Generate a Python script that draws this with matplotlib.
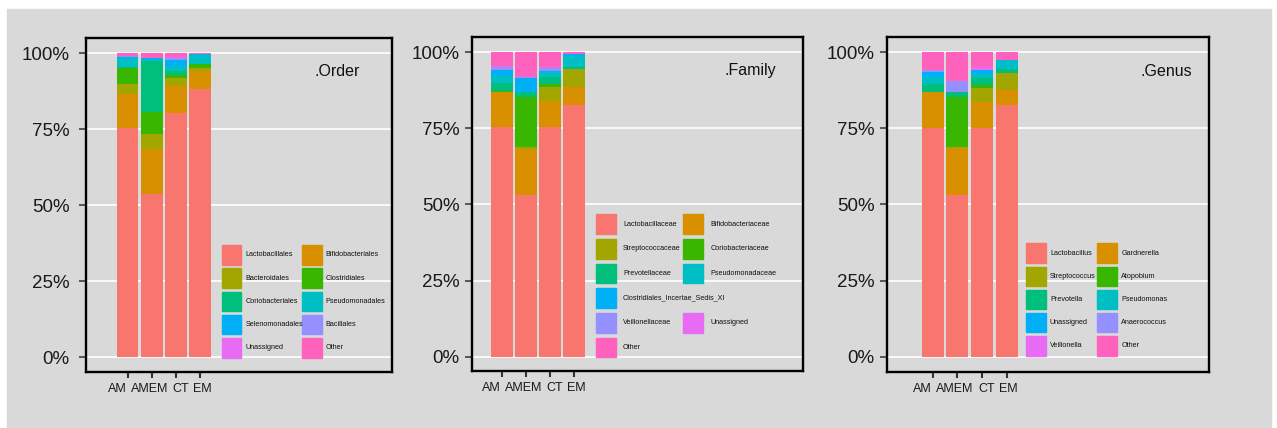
import numpy as np
import matplotlib
matplotlib.use("Agg")
import matplotlib.pyplot as plt
from matplotlib.patches import Rectangle
from matplotlib.ticker import PercentFormatter
from matplotlib.transforms import ScaledTranslation

plt.rcParams['font.family'] = ['Liberation Sans', 'DejaVu Sans']

W, H = 1277, 428
GREY = '#d9d9d9'

samples = ['AM', 'AMEM', 'CT', 'EM']

# ggplot default hue palette for 10 levels
hue10 = ['#F8766D', '#D89000', '#A3A500', '#39B600', '#00BF7D',
         '#00BFC4', '#00B0F6', '#9590FF', '#E76BF3', '#FF62BC']

# relative abundance (%), one row per sample, taxa stacked bottom -> top
order_taxa = ['Lactobacillales', 'Bifidobacteriales', 'Bacteroidales', 'Clostridiales',
              'Coriobacteriales', 'Pseudomonadales', 'Selenomonadales', 'Bacillales',
              'Unassigned', 'Other']
order_abund = [
    [75.5, 11.1, 3.2, 5.5, 0.3, 2.8, 0.5, 0.1, 0.0, 1.0],
    [53.6, 15.0, 4.7, 7.3, 17.0, 0.2, 0.6, 0.0, 0.0, 1.6],
    [80.4, 8.9, 2.7, 1.0, 1.3, 1.6, 1.8, 0.8, 0.2, 1.3],
    [88.4, 5.8, 1.1, 1.1, 0.0, 3.2, 0.2, 0.0, 0.0, 0.2],
]

family_taxa = ['Lactobacillaceae', 'Bifidobacteriaceae', 'Streptococcaceae', 'Coriobacteriaceae',
               'Prevotellaceae', 'Pseudomonadaceae', 'Clostridiales_Incertae_Sedis_XI',
               'Veillonellaceae', 'Unassigned', 'Other']
family_abund = [
    [75.4, 11.4, 0.3, 0.2, 2.6, 2.3, 2.1, 0.9, 0.3, 4.5],
    [53.2, 15.1, 0.7, 16.4, 1.4, 0.0, 4.6, 0.6, 0.0, 8.0],
    [75.3, 8.6, 4.6, 1.1, 2.2, 1.6, 0.3, 1.3, 0.3, 4.7],
    [82.7, 6.0, 5.7, 0.0, 0.9, 3.6, 0.5, 0.0, 0.0, 0.6],
]

genus_taxa = ['Lactobacillus', 'Gardnerella', 'Streptococcus', 'Atopobium', 'Prevotella',
              'Pseudomonas', 'Unassigned', 'Anaerococcus', 'Veillonella', 'Other']
genus_abund = [
    [75.2, 11.7, 0.0, 0.0, 2.5, 2.5, 1.5, 0.9, 0.0, 5.7],
    [53.1, 15.3, 0.6, 16.4, 1.6, 0.0, 0.0, 3.5, 0.0, 9.5],
    [75.0, 8.6, 4.6, 0.9, 2.4, 1.3, 1.4, 0.0, 1.1, 4.7],
    [82.7, 4.9, 5.7, 0.0, 1.1, 2.7, 0.2, 0.3, 0.0, 2.4],
]

# legend slots (column, row) for each taxon
grid2x5 = [(i % 2, i // 2) for i in range(10)]
family_slots = [(0, 0), (1, 0), (0, 1), (1, 1), (0, 2), (1, 2), (0, 3), (0, 4), (1, 4), (0, 5)]

# sideways nudge (px) of the sample labels so they read as one line
label_shift = [-10.5, -2.5, 4.5, 2.0]

# panel geometry in pixels: box left/right/top/bottom, xlim, ylim, tick pad,
# legend column x, legend top, row pitch, key size, text offset, title pos
panels = [
    dict(title='.Order', taxa=order_taxa, abund=order_abund, slots=grid2x5,
         box=(85.7, 392, 37.7, 372), xlim=(-1.73, 10.94), ylim=(-0.0484, 1.0513), ypad=6.5,
         legx=(222, 302.3), legy=245, pitch=23.3, key=19.5, toff=23.5, tpos=(314, 71)),
    dict(title='.Family', taxa=family_taxa, abund=family_abund, slots=family_slots,
         box=(471.7, 802.7, 36.7, 371), xlim=(-1.245, 12.49), ylim=(-0.047, 1.0512), ypad=3.6,
         legx=(596, 683.3), legy=214.3, pitch=24.7, key=19.5, toff=27, tpos=(725, 71)),
    dict(title='.Genus', taxa=genus_taxa, abund=genus_abund, slots=grid2x5,
         box=(886.7, 1209.3, 37.3, 371.7), xlim=(-1.865, 11.21), ylim=(-0.0493, 1.049), ypad=3.6,
         legx=(1026, 1097.3), legy=243.3, pitch=23.2, key=19.5, toff=24, tpos=(1140.7, 71)),
]

fig = plt.figure(figsize=(W / 100, H / 100), dpi=100, facecolor='white')
fig.add_artist(Rectangle((7 / W, 0), (1271 - 7) / W, 1 - 9 / H,
                         transform=fig.transFigure, color=GREY, zorder=0))


def fx(x):
    return x / W


def fy(y):
    return 1 - y / H


for p in panels:
    l, r, t, b = p['box']
    ax = fig.add_axes([fx(l), fy(b), (r - l) / W, (b - t) / H])
    ax.set_facecolor(GREY)

    xpos = np.arange(len(samples))
    vals = np.array(p['abund']) / 100.0
    bottom = np.zeros(len(samples))
    for k, taxon in enumerate(p['taxa']):
        ax.bar(xpos, vals[:, k], bottom=bottom, width=0.9, color=hue10[k],
               linewidth=0, zorder=2)
        bottom += vals[:, k]

    ax.set_xlim(*p['xlim'])
    ax.set_ylim(*p['ylim'])
    ax.set_yticks([0, 0.25, 0.5, 0.75, 1.0])
    ax.yaxis.set_major_formatter(PercentFormatter(xmax=1, decimals=0))
    ax.set_xticks(xpos)
    ax.set_xticklabels(samples)
    ax.grid(axis='y', color='white', linewidth=1.2)
    ax.set_axisbelow(True)
    for s in ax.spines.values():
        s.set_linewidth(1.7)
        s.set_color('black')
    ax.tick_params(axis='y', labelsize=13.5, labelcolor='#1a1a1a', length=5,
                   width=1.1, color='#333333', pad=p['ypad'])
    ax.tick_params(axis='x', labelsize=9, labelcolor='#1a1a1a', length=4.5,
                   width=1.5, color='#333333', pad=3.5)
    for lab, dx in zip(ax.get_xticklabels(), label_shift):
        lab.set_transform(lab.get_transform() + ScaledTranslation(dx / 100, 0, fig.dpi_scale_trans))

    # title inside the panel
    tx, ty = p['tpos']
    fig.text(fx(tx), fy(ty), p['title'], fontsize=11.5, ha='left', va='center',
             color='#111111')

    # two-column legend drawn as coloured keys
    for k, taxon in enumerate(p['taxa']):
        c, row = p['slots'][k]
        kx = p['legx'][c]
        ky = p['legy'] + row * p['pitch']
        fig.add_artist(Rectangle((fx(kx), fy(ky + p['key'])), p['key'] / W, p['key'] / H,
                                 transform=fig.transFigure, color=hue10[k], zorder=3))
        fig.text(fx(kx + p['toff']), fy(ky + p['key'] / 2), taxon, fontsize=5.2,
                 ha='left', va='center', color='#111111')

fig.savefig('out.png', dpi=100, facecolor='white')
